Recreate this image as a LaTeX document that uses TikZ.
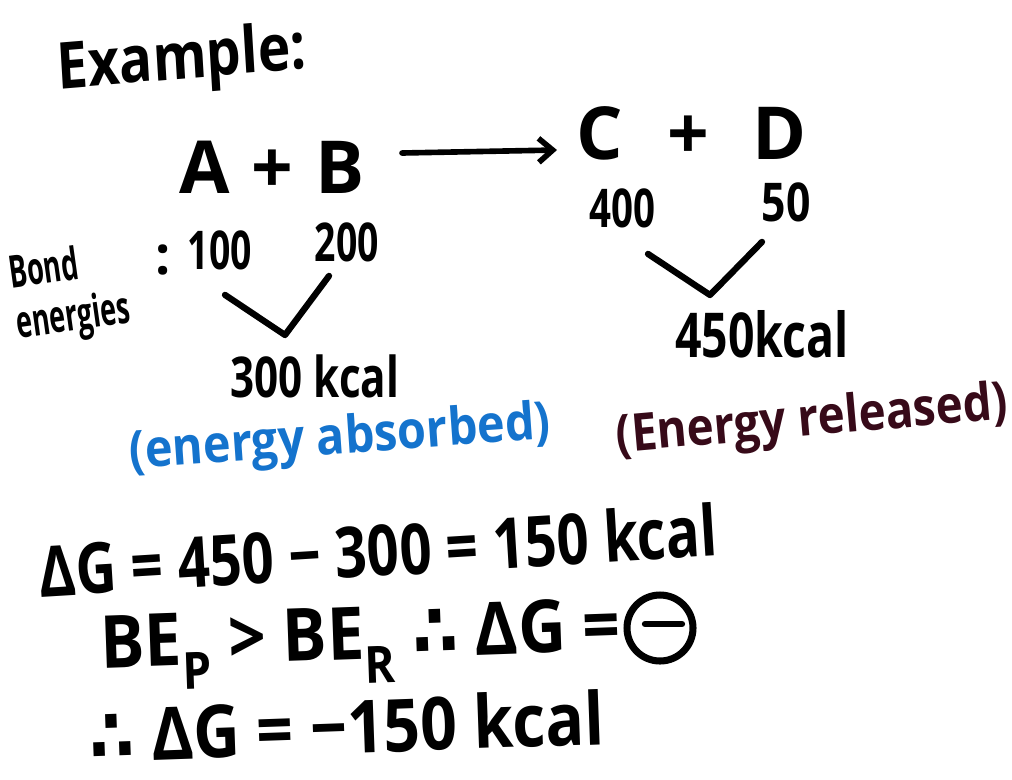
\documentclass[tikz,border=0pt]{standalone}
\usepackage{fontspec}
\setmainfont{Open Sans}
\newfontfamily\symfont{DejaVu Sans}
\usetikzlibrary{arrows.meta,calc}
\definecolor{inkblue}{RGB}{20,115,205}
\definecolor{inkmaroon}{RGB}{55,10,25}

\begin{document}
\begin{tikzpicture}[x=0.025cm, y=-0.025cm,
  hand/.style={inner sep=0pt, font=\bfseries\fontsize{#1}{#1}\selectfont},
  vee/.style={line width=4.5pt, line cap=round, line join=round},
  rxn/.style={-{Straight Barb[length=3.5mm, width=6mm]}, line width=4pt, line cap=round}]
\useasboundingbox (0,0) rectangle (1012,779);
% heading
\node[hand=46, xscale=.85, rotate=4] (title) at (182,62) {Example:};
% reaction
\node[hand=52] (ab) at (272,167) {A\hspace{.3em}+\hspace{.3em}B};
\node[hand=52] (cd) at (692,133) {C\hspace{.6em}+\hspace{.6em}D};
\coordinate (arrS) at (402,153);
\coordinate (arrE) at (557,150);
\draw[rxn] (arrS) -- (arrE);
% bond energies of reactants
\node[hand=32, align=left, rotate=8, xscale=.6] (bond) at (70,294) {Bond\\[4pt]energies};
\node[hand=38] (colon) at (163,260) {:};
\node[hand=38, xscale=.7] (e100) at (220,250) {100};
\node[hand=38, xscale=.7] (e200) at (347,242) {200};
\coordinate (vab) at (285,335);
\draw[vee] ($(e100.south)+(5,25)$) -- (vab) -- ($(e200.south)+(-18,14)$);
\node[hand=40, xscale=.75] (sum1) at (315,376) {300 kcal};
% bond energies of products
\node[hand=38, xscale=.72] (e400) at (622,208) {400};
\node[hand=38, xscale=.8] (e50) at (786,202) {50};
\coordinate (vcd) at (710,295);
\draw[vee] ($(e400.south)+(26,26)$) -- (vcd) -- ($(e50.south)+(-24,20)$);
\node[hand=44, xscale=.75] (sum2) at (762,334) {450kcal};
% notes
\node[hand=37, text=inkblue, rotate=4, xscale=.9] (absorb) at (340,440) {(energy absorbed)};
\node[hand=37, text=inkmaroon, rotate=5, xscale=.88] (release) at (812,422) {(Energy released)};
% free energy
\node[hand=50, rotate=3.5, xscale=.8] (eq1) at (378,550) {ΔG = 450 − 300 = 150 kcal};
\node[hand=52, rotate=2, xscale=.9] (eq2) at (361,645) {BE\textsubscript{P} > BE\textsubscript{R} {\symfont ∴} ΔG =};
\node[draw, circle, line width=5pt, minimum size=66*0.025cm, inner sep=0pt] (neg) at (660,628) {};
\draw[vee] ($(neg.center)+(-15,-4)$) -- ($(neg.center)+(22,-4)$);
\node[hand=52, rotate=2, xscale=.88] (eq3) at (347,726) {{\symfont ∴} ΔG = −150 kcal};
\end{tikzpicture}
\end{document}
